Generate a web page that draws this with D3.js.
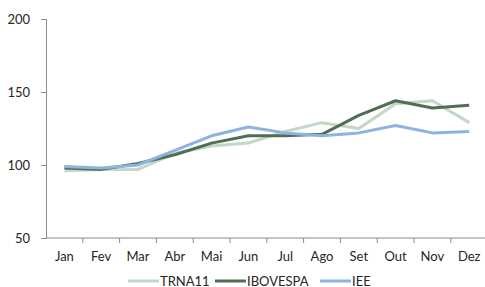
<!DOCTYPE html>
<html>
<head>
<meta charset="utf-8">
<script src="https://cdn.jsdelivr.net/npm/d3@7"></script>
<style>
  body { margin: 0; background: #fff; }
  text { font-family: Lato, "Liberation Sans", Arial, sans-serif; fill: #262626; }
</style>
</head>
<body>
<script>
// data
var months = ["Jan", "Fev", "Mar", "Abr", "Mai", "Jun", "Jul", "Ago", "Set", "Out", "Nov", "Dez"];
var trna11 = [96, 97, 97, 108, 113, 115, 123, 129, 125, 142, 144, 129];
var ibovespa = [98, 97, 101, 107, 115, 120, 120, 121, 134, 144, 139, 141];
var iee = [99, 98, 100, 110, 120, 126, 122, 120, 122, 127, 122, 123];
var yTicks = [50, 100, 150, 200];

var series = [
    {name: "TRNA11", values: trna11, color: "#c4d6c5"},
    {name: "IBOVESPA", values: ibovespa, color: "#4f6f54"},
    {name: "IEE", values: iee, color: "#8db3e2"}
];

var _width = 485, _height = 287;
var _margins = {top: 19, left: 46, bottom: 49};

var svg = d3.select("body").append("svg")
    .attr("width", _width)
    .attr("height", _height);

var x = d3.scaleBand()
    .domain(months)
    .range([_margins.left, 487.6]);

var y = d3.scaleLinear()
    .domain([50, 200])
    .range([_height - _margins.bottom, _margins.top]);

// y axis
var yAxis = svg.append("g")
    .attr("transform", "translate(" + _margins.left + ",0)")
    .call(d3.axisLeft(y).tickValues(yTicks).tickSize(5).tickPadding(11));
yAxis.select(".domain").attr("stroke", "#8c8c8c");
yAxis.selectAll(".tick line").attr("stroke", "#8c8c8c");
yAxis.selectAll("text")
    .style("font-size", "13px")
    .style("font-family", "Lato, sans-serif")
    .attr("fill", "#262626");

// x axis with ticks at category boundaries
var xAxisG = svg.append("g")
    .attr("transform", "translate(0," + y(50) + ")");
xAxisG.append("line")
    .attr("x1", _margins.left).attr("x2", _width)
    .attr("stroke", "#8c8c8c");
xAxisG.selectAll("line.tick")
    .data(months.slice(1))
    .enter().append("line")
    .attr("class", "tick")
    .attr("x1", function (d) { return x(d); })
    .attr("x2", function (d) { return x(d); })
    .attr("y2", 5)
    .attr("stroke", "#8c8c8c");
xAxisG.selectAll("text")
    .data(months)
    .enter().append("text")
    .attr("x", function (d) { return x(d) + x.bandwidth() / 2; })
    .attr("y", 23)
    .attr("text-anchor", "middle")
    .style("font-size", "13px")
    .text(function (d) { return d; });

// lines
var line = d3.line()
    .x(function (d, i) { return x(months[i]) + x.bandwidth() / 2; })
    .y(function (d) { return y(d); });

svg.selectAll("path.series")
    .data(series)
    .enter().append("path")
    .attr("class", "series")
    .attr("fill", "none")
    .attr("stroke", function (d) { return d.color; })
    .attr("stroke-width", 3)
    .attr("stroke-linejoin", "round")
    .attr("d", function (d) { return line(d.values); });

// legend
var legendX = [128, 215, 320];
var legend = svg.selectAll("g.legend")
    .data(series)
    .enter().append("g")
    .attr("class", "legend")
    .attr("transform", function (d, i) { return "translate(" + legendX[i] + ",281)"; });
legend.append("line")
    .attr("x2", 31)
    .attr("stroke", function (d) { return d.color; })
    .attr("stroke-width", 3);
legend.append("text")
    .attr("x", 32)
    .attr("y", 4.5)
    .style("font-size", "13px")
    .text(function (d) { return d.name; });
</script>
</body>
</html>
